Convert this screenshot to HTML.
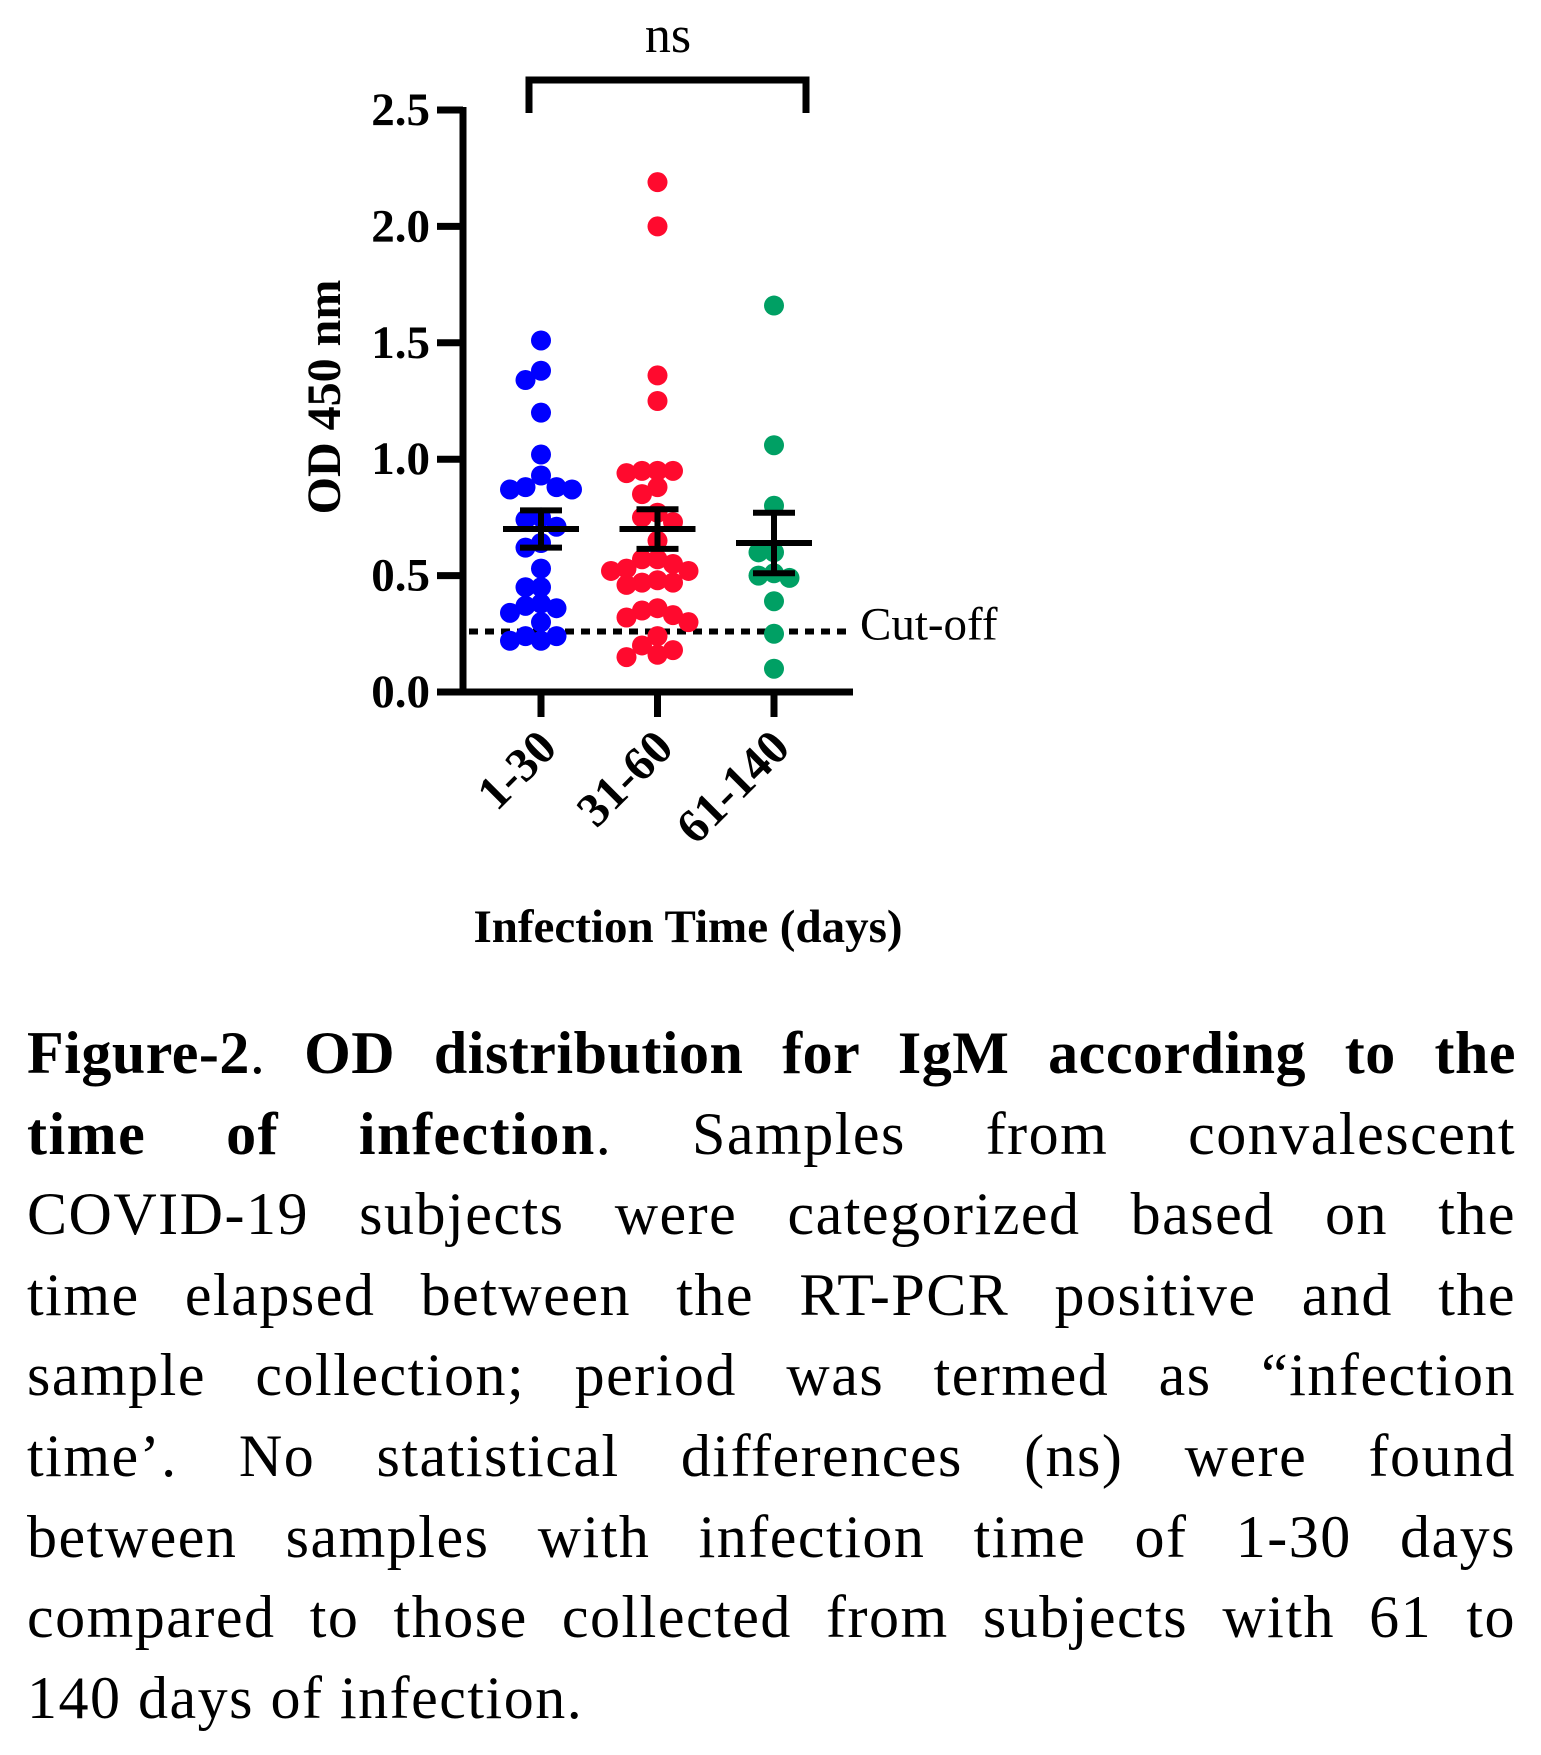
<!DOCTYPE html>
<html><head><meta charset="utf-8"><style>
html,body{margin:0;padding:0;background:#fff;}
body{width:1541px;height:1755px;position:relative;overflow:hidden;}
#cap{position:absolute;left:27px;top:1013px;width:1489px;font-family:"Liberation Serif",serif;font-size:60px;letter-spacing:1.5px;color:#000;}
.ln{height:80.6px;line-height:80.6px;text-align:justify;text-align-last:justify;white-space:nowrap;}
.ln.last{text-align-last:left;}
.ln.b1{letter-spacing:0.5px;}
</style></head><body>
<svg id="chart" width="1541" height="1000" style="position:absolute;left:0;top:0" font-family="Liberation Serif, serif"></svg>
<div id="cap">
<div class="ln b1"><b>Figure-2</b>. <b>OD distribution for IgM according to the</b></div>
<div class="ln"><b>time of infection</b>. Samples from convalescent</div>
<div class="ln">COVID-19 subjects were categorized based on the</div>
<div class="ln">time elapsed between the RT-PCR positive and the</div>
<div class="ln">sample collection; period was termed as “infection</div>
<div class="ln">time’. No statistical differences (ns) were found</div>
<div class="ln">between samples with infection time of 1-30 days</div>
<div class="ln">compared to those collected from subjects with 61 to</div>
<div class="ln last">140 days of infection.</div>
</div>
<script>
const categories = ["1-30", "31-60", "61-140"];
const group1 = [1.51,1.38,1.34,1.20,1.02,0.93,0.88,0.88,0.87,0.87,0.75,0.74,0.71,0.64,0.62,0.53,0.45,0.45,0.38,0.37,0.36,0.34,0.30,0.24,0.24,0.22,0.22];
const group2 = [2.19,2.00,1.36,1.25,0.95,0.95,0.95,0.94,0.88,0.85,0.77,0.75,0.73,0.65,0.57,0.57,0.55,0.53,0.52,0.52,0.48,0.47,0.47,0.46,0.36,0.35,0.33,0.32,0.30,0.24,0.20,0.18,0.16,0.15];
const group3 = [1.66,1.06,0.80,0.60,0.60,0.51,0.50,0.49,0.39,0.25,0.10];
const means = [0.70, 0.70, 0.64];
const sems = [0.08, 0.085, 0.13];
const yTicks = [0, 0.5, 1.0, 1.5, 2.0, 2.5];
const yTickLabels = ["0.0","0.5","1.0","1.5","2.0","2.5"];
const cutoff = 0.26;

const svg = document.getElementById('chart');
const NS = 'http://www.w3.org/2000/svg';
const groups = [group1, group2, group3];
const colors = ['#0000ff', '#ff0a2e', '#00a064'];
const X0 = 463, Y0 = 692, YT = 110, YMAX = 2.5, XR = 853;
function yS(v){ return Y0 - (Y0 - YT) * v / YMAX; }
function xS(i){ return 541 + i * 116.5; }
function mk(tag, attrs, parent){
  const e = document.createElementNS(NS, tag);
  for (const k in attrs) e.setAttribute(k, attrs[k]);
  (parent || svg).appendChild(e);
  return e;
}
let e;
e = mk('line', {x1:X0, y1:Y0+3, x2:X0, y2:YT-3, stroke:'#000', 'stroke-width':7});


e = mk('line', {x1:438, y1:Y0, x2:XR, y2:Y0, stroke:'#000', 'stroke-width':7});


yTicks.forEach((t, i) => {
  const y = yS(t);
  const tk = mk('line', {x1:437, y1:y, x2:X0, y2:y, stroke:'#000', 'stroke-width':7});
  
  
  const lb = mk('text', {x:430, y:y+15, 'text-anchor':'end', 'font-size':47, 'font-weight':'bold'});
  lb.textContent = yTickLabels[i];
  
  
});
e = mk('text', {x:0, y:0, 'text-anchor':'middle', 'font-size':48, 'font-weight':'bold', transform:'translate(340,397) rotate(-90)'});
e.textContent = 'OD 450 nm';


categories.forEach((c, i) => {
  const x = xS(i);
  const tk = mk('line', {x1:x, y1:Y0, x2:x, y2:717, stroke:'#000', 'stroke-width':7});
  
  
  const lb = mk('text', {x:0, y:0, 'text-anchor':'end', 'font-size':48, 'font-weight':'bold', transform:`translate(${x+18},${750}) rotate(-45)`});
  lb.textContent = c;
  
  
});
e = mk('text', {x:688, y:942, 'text-anchor':'middle', 'font-size':47, 'font-weight':'bold'});
e.textContent = 'Infection Time (days)';


e = mk('line', {x1:X0+6, y1:yS(cutoff), x2:848, y2:yS(cutoff), stroke:'#000', 'stroke-width':6, 'stroke-dasharray':'9 7'});


e = mk('text', {x:860, y:yS(cutoff)+8, 'font-size':47});
e.textContent = 'Cut-off';


e = mk('path', {d:`M${xS(0)-12},113 V80 H${xS(2)+32} V113`, fill:'none', stroke:'#000', 'stroke-width':7});


e = mk('text', {x:668, y:52, 'text-anchor':'middle', 'font-size':52});
e.textContent = 'ns';


const R = 10, D = 15.5, STEP = 15.5;
groups.forEach((vals, gi) => {
  const placed = [];
  const sorted = vals.slice().sort((a, b) => b - a);
  sorted.forEach(v => {
    const y = yS(v);
    let off = 0;
    for (let k = 0; k < 40; k++) {
      const cand = k === 0 ? 0 : (k % 2 ? -1 : 1) * Math.ceil(k / 2) * STEP;
      if (placed.every(p => Math.hypot(p[0] - cand, p[1] - y) >= D)) { off = cand; break; }
    }
    placed.push([off, y]);
    const c = mk('circle', {cx:xS(gi) + off, cy:y, r:R, fill:colors[gi]});
    
    
  });
});
means.forEach((m, i) => {
  const x = xS(i);
  const g = mk('g', {stroke:'#000', 'stroke-width':6});
  
  
  mk('line', {x1:x-38, y1:yS(m), x2:x+38, y2:yS(m)}, g);
  mk('line', {x1:x, y1:yS(m-sems[i]), x2:x, y2:yS(m+sems[i])}, g);
  mk('line', {x1:x-21, y1:yS(m+sems[i]), x2:x+21, y2:yS(m+sems[i])}, g);
  mk('line', {x1:x-21, y1:yS(m-sems[i]), x2:x+21, y2:yS(m-sems[i])}, g);
});
</script>
</body></html>
